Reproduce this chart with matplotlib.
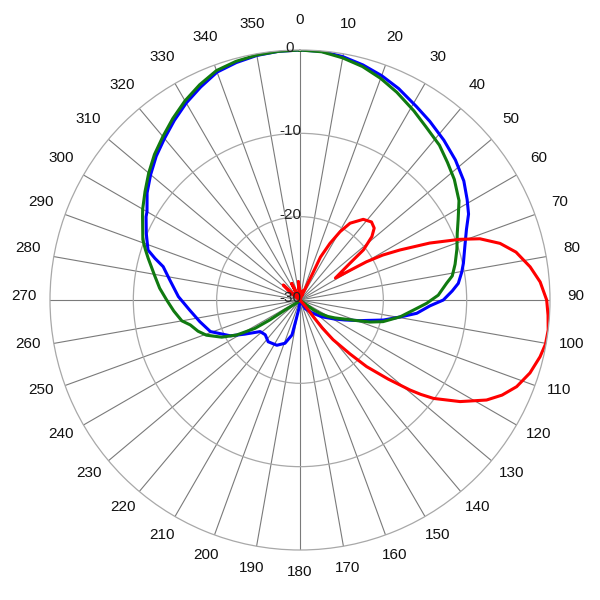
import numpy as np
import matplotlib
matplotlib.use('Agg')
import matplotlib.pyplot as plt
from matplotlib import transforms

plt.rcParams['font.family'] = ['Liberation Sans', 'DejaVu Sans']

# radiation patterns, angle in degrees (clockwise from top), level in dB
green_deg = [0, 5, 10, 15, 20, 25, 31, 36, 42, 47, 52, 58, 63, 67, 72, 77, 81, 83.5, 88,
             91.5, 95, 99.5, 104.6, 107.5, 110.4, 112.9, 117.2, 120.5, 124, 126.2, 127,
             130, 180, 225, 236.3, 236.5, 237.8, 241.1, 244.6, 249.4, 253, 257.2, 260,
             265, 270, 274.8, 279.6, 285.4, 288, 291, 293, 298, 300, 305, 310, 315, 320,
             325, 330, 335, 340, 345, 350, 355, 360]
green_db = [0, -0.1, -0.5, -1.0, -1.7, -2.5, -3.5, -4.3, -5.0, -5.8, -6.5, -7.5, -8.7,
            -9.5, -10.2, -10.9, -11.5, -12.3, -13.4, -14.8, -16.3, -17.8, -19.7, -21.2,
            -23.0, -24.1, -25.3, -26.1, -27.1, -28.1, -29.1, -30, -30, -29.6, -27.8,
            -25.7, -23.6, -21.3, -19.6, -18.0, -17.2, -16.5, -15.6, -14.8, -14.0, -13.1,
            -12.3, -11.1, -10.5, -9.8, -9.5, -8.6, -8.2, -7.3, -6.3, -5.3, -4.4, -3.4,
            -2.4, -1.5, -0.7, -0.35, -0.15, -0.05, 0]

blue_deg = [0, 5, 10, 15, 20, 25, 31, 36, 42, 48, 54, 59, 63, 67, 72, 77.3, 80.2, 84,
            86.6, 90, 92.6, 96.5, 99.6, 103.5, 109, 114, 119, 127.6, 137, 149, 160, 185,
            187, 191.3, 192.9, 199.2, 207.1, 217.3, 225, 231.6, 238.3, 242.8, 250.6,
            257.8, 264.8, 271.6, 278.7, 283.7, 286, 288.2, 293.4, 298.4, 300, 305, 310,
            315, 320, 325, 330, 335, 340, 345, 350, 355, 360]
blue_db = [0, -0.05, -0.35, -0.8, -1.35, -2.0, -2.9, -3.5, -4.2, -4.9, -5.7, -6.6, -7.3,
           -8.3, -9.2, -9.9, -10.3, -10.9, -11.7, -12.8, -14.4, -15.9, -17.8, -19.7,
           -22.4, -24.1, -25.3, -26.7, -27.9, -28.8, -30, -30,
           -29.0, -27.6, -25.7, -24.5, -23.9, -23.7, -24.1, -23.9, -22.2, -20.6, -18.6,
           -17.7, -16.7, -15.4, -14.2, -13.1, -11.9, -10.8, -9.9, -9.0, -8.8, -7.6,
           -6.6, -5.6, -4.7, -3.7, -2.7, -1.8, -0.9, -0.5, -0.2, -0.05, 0]

red_deg = [0, 10, 18, 22, 25, 25.5, 25.5, 27.9, 30.4, 33.1, 38.1, 42.5, 45.9, 48.6, 51.7,
           53.7, 58.2, 59.4, 60.1, 61.5, 63.4, 66.3, 69.2, 71.2, 74.2, 77.5, 81.8, 85.7,
           90, 93.5, 96.9, 100.2, 103.3, 107.6, 111.8, 115.2, 118.2, 122.4, 126.4, 128,
           129.3, 131.9, 135, 137.2, 140.2, 141.5, 141.5, 140, 143, 300, 307, 312, 318,
           327, 333, 339, 350, 355, 360]
red_db = [-30, -30, -28.8, -29.5, -28.0, -26.4, -24.3, -22.3, -20.5, -19.0, -17.7, -17.3,
          -17.6, -18.5, -20.3, -22.6, -25.0, -22.9, -20.8, -18.7, -16.6, -13.0, -9.5,
          -7.2, -5.05, -3.45, -2.1, -1.1, -0.4, -0.18, 0, -0.07, -0.4, -1.05, -2.0, -3.2,
          -4.6, -7.25, -10.1, -11.6, -12.95, -15.8, -18.7, -21.2, -23.8, -25.7, -27.4,
          -28.9, -30, -30, -28.6, -27.3, -30, -30, -27.8, -30, -30, -27.8, -30]

angle_ticks = list(range(0, 360, 10))
ring_levels = [0, -10, -20, -30]

fig = plt.figure(figsize=(6, 6), dpi=100)
ax = fig.add_axes([50 / 600, 50 / 600, 500 / 600, 500 / 600], projection='polar')
ax.set_theta_zero_location('N')
ax.set_theta_direction(-1)
ax.set_ylim(-30, 0)

ax.set_xticks(np.deg2rad(angle_ticks))
ax.set_xticklabels([])
ax.set_yticks([-20, -10])
ax.set_yticklabels([])
ax.xaxis.grid(True, color='#7a7a7a', linewidth=0.8)
ax.yaxis.grid(True, color='#a8a8a8', linewidth=0.9)
ax.spines['polar'].set_color('#a8a8a8')
ax.spines['polar'].set_linewidth(0.9)
ax.tick_params(length=0)

ax.plot(np.deg2rad(blue_deg), blue_db, color='#0000ff', lw=2.2)
ax.plot(np.deg2rad(green_deg), green_db, color='#107a10', lw=2.2)
ax.plot(np.deg2rad(red_deg), red_db, color='#ff0000', lw=2.2)

lift = transforms.offset_copy(ax.transData, fig=fig, x=0, y=4, units='dots')
for a in angle_ticks:
    ax.text(np.deg2rad(a), 3.1, str(a), transform=lift, ha='center', va='center',
            fontsize=11, color='#111111', clip_on=False)

shift = transforms.offset_copy(ax.transData, fig=fig, x=-10, y=2, units='dots')
for lv in ring_levels:
    ax.text(0, lv, str(lv), transform=shift, ha='center', va='center',
            fontsize=11, color='#222222', clip_on=False)

fig.savefig('out.png', dpi=100)
